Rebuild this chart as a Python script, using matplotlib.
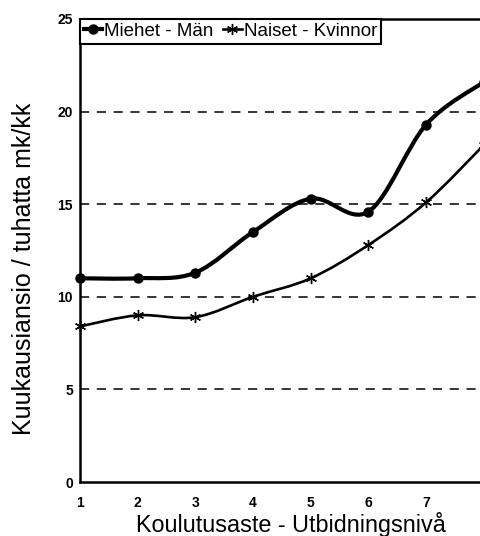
import numpy as np
import matplotlib
matplotlib.use("Agg")
import matplotlib.pyplot as plt
from matplotlib.path import Path
from matplotlib.patches import PathPatch
from matplotlib.lines import Line2D

plt.rcParams['font.family'] = ['Liberation Sans', 'DejaVu Sans']

# education levels and monthly earnings (thousand mk/month)
levels = [1, 2, 3, 4, 5, 6, 7, 8]
men = [11.0, 11.0, 11.3, 13.5, 15.3, 14.6, 19.3, 21.6]
women = [8.4, 9.0, 8.9, 10.0, 11.0, 12.8, 15.1, 18.2]


def smooth_path(x, y):
    # Catmull-Rom style bezier through the points (like a spreadsheet "smoothed line")
    x = np.asarray(x, float)
    y = np.asarray(y, float)
    verts = [(x[0], y[0])]
    codes = [Path.MOVETO]
    n = len(x)
    for i in range(n - 1):
        p0 = (x[max(i - 1, 0)], y[max(i - 1, 0)])
        p1 = (x[i], y[i])
        p2 = (x[i + 1], y[i + 1])
        p3 = (x[min(i + 2, n - 1)], y[min(i + 2, n - 1)])
        c1 = (p1[0] + (p2[0] - p0[0]) / 6, p1[1] + (p2[1] - p0[1]) / 6)
        c2 = (p2[0] - (p3[0] - p1[0]) / 6, p2[1] - (p3[1] - p1[1]) / 6)
        verts += [c1, c2, p2]
        codes += [Path.CURVE4] * 3
    return Path(verts, codes)


fig = plt.figure(figsize=(4.81, 5.36), dpi=100)
ax = fig.add_axes([0.166, 0.1007, 0.84, 0.8639])

ax.add_patch(PathPatch(smooth_path(levels, men), fill=False, lw=3, color='black', zorder=3))
ax.add_patch(PathPatch(smooth_path(levels, women), fill=False, lw=1.9, color='black', zorder=3))
ax.plot(levels, men, 'o', color='black', ms=6.5, zorder=4, clip_on=False)
ax.plot(levels, women, linestyle='none', marker=(6, 2, 0), color='black', ms=8, mew=1.0, zorder=4, clip_on=False)

ax.set_xlim(1, 8)
ax.set_ylim(0, 25)
ax.set_xticks(levels)
ax.set_yticks([0, 5, 10, 15, 20, 25])
ax.tick_params(length=0, labelsize=10)
ax.tick_params(axis='y', pad=5)
ax.tick_params(axis='x', pad=10)
for lab in ax.get_xticklabels() + ax.get_yticklabels():
    lab.set_fontweight('bold')

for v in [5, 10, 15, 20]:
    ax.axhline(v, color='black', lw=1.1, ls=(0, (6, 5)), zorder=1)

for side in ['left', 'bottom', 'top']:
    ax.spines[side].set_linewidth(1.8)
ax.spines['right'].set_visible(False)

ax.set_xlabel('Koulutusaste - Utbidningsnivå', fontsize=16.8)
ax.xaxis.set_label_coords(0.523, -0.091, transform=ax.transAxes)
ax.xaxis.label.set_va('center')
ax.set_ylabel('Kuukausiansio / tuhatta mk/kk', fontsize=18)
ax.yaxis.set_label_coords(-0.137, 0.46, transform=ax.transAxes)
ax.yaxis.label.set_va('center')

handles = [
    Line2D([], [], color='black', lw=3, marker='o', ms=6.5),
    Line2D([], [], color='black', lw=1.9, marker=(6, 2, 0), ms=8, mew=1.0),
]
leg = ax.legend(handles, ['Miehet - Män', 'Naiset - Kvinnor'], loc='upper left', ncol=2,
                fontsize=13.5, frameon=True, fancybox=False, borderaxespad=0,
                handlelength=1.0, handletextpad=0.1, columnspacing=0.5,
                borderpad=0.2, edgecolor='black', framealpha=1)
leg.get_frame().set_linewidth(1.5)

fig.savefig('out.png', dpi=100)
